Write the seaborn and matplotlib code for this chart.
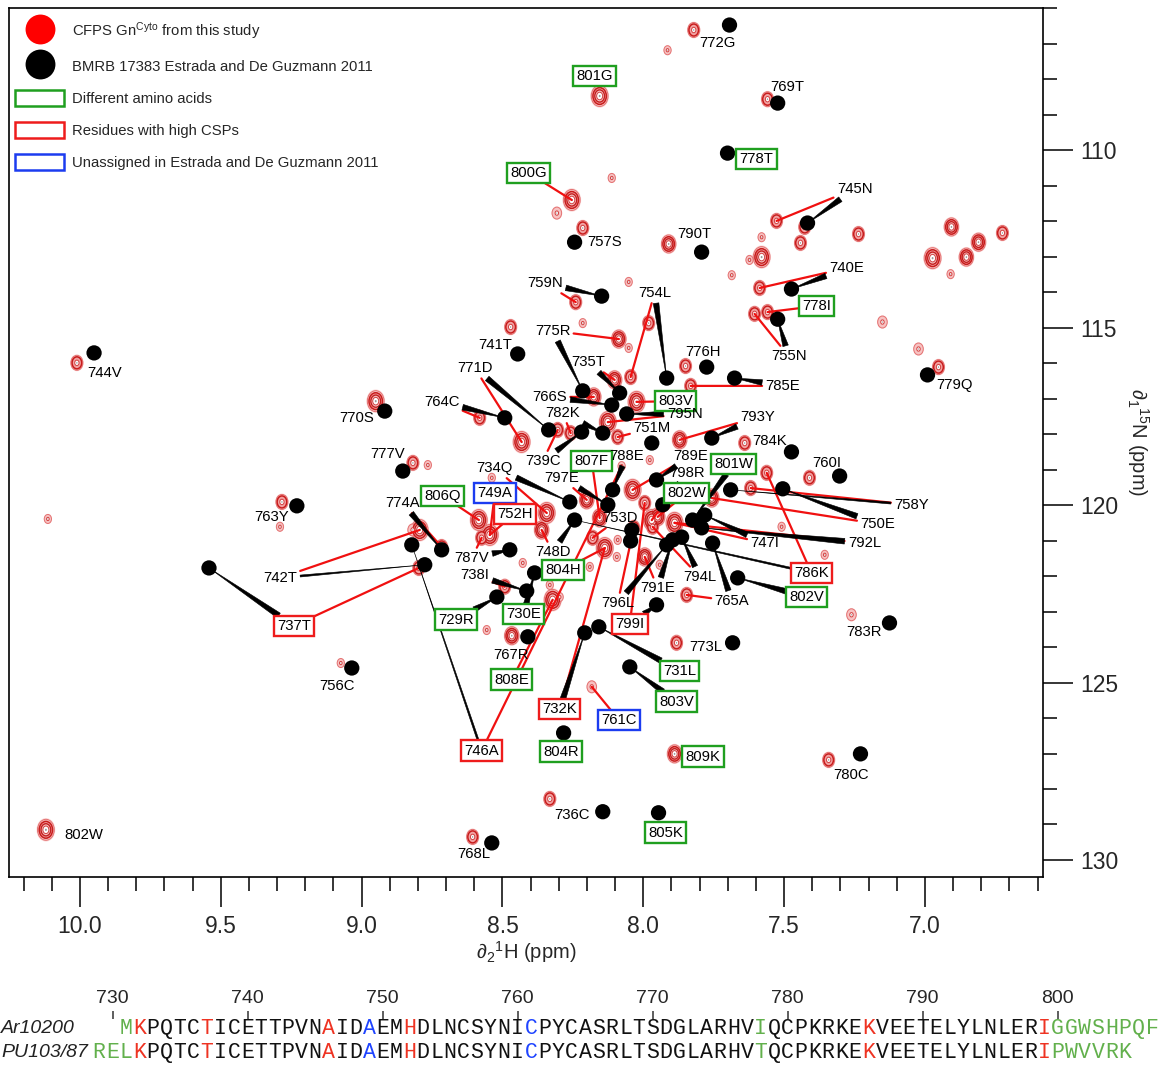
import numpy as np
import pandas as pd
import matplotlib
matplotlib.use("Agg")
import matplotlib.pyplot as plt
import seaborn as sns
from matplotlib.path import Path
from matplotlib.transforms import Affine2D
from matplotlib.lines import Line2D
from matplotlib.patches import Patch
from matplotlib.ticker import MultipleLocator, FormatStrFormatter

# ---------------- data ----------------
# BMRB 17383 reference peaks (1H ppm, 15N ppm)
bmrb_h = [7.694, 7.523, 7.701, 8.244, 7.793, 7.417, 7.474, 7.523, 6.991, 8.148,
          7.917, 7.775, 7.676, 8.446, 8.215, 8.084, 8.112, 8.059, 8.336, 8.492,
          8.144, 8.219, 7.970, 7.757, 7.474, 7.303, 9.950, 8.918, 8.854, 9.230,
          8.716, 8.822, 8.776, 9.542, 8.261, 8.109, 8.244, 8.474, 8.414, 8.520,
          8.386, 8.410, 8.041, 8.045, 7.953, 7.931, 7.825, 7.782, 7.793, 7.754,
          7.864, 7.896, 7.917, 7.690, 7.505, 7.665, 7.126, 7.683, 7.953, 8.208,
          8.158, 8.048, 9.035, 8.283, 8.144, 7.946, 8.538, 7.229, 8.126]
bmrb_n = [106.47, 108.67, 110.08, 112.59, 112.87, 112.05, 113.91, 114.76, 116.33, 114.11,
          116.42, 116.11, 116.42, 115.74, 116.78, 116.84, 117.18, 117.43, 117.88, 117.54,
          117.97, 117.94, 118.25, 118.11, 118.50, 119.18, 115.71, 117.35, 119.04, 120.02,
          121.26, 121.12, 121.68, 121.77, 119.91, 119.57, 120.42, 121.26, 122.42, 122.59,
          121.91, 123.71, 120.70, 121.01, 119.29, 119.99, 120.42, 120.28, 120.64, 121.07,
          120.90, 120.98, 121.12, 119.57, 119.54, 122.05, 123.32, 123.88, 122.81, 123.60,
          123.43, 124.56, 124.59, 126.42, 128.64, 128.67, 129.52, 127.01, 119.99]

# CFPS Gn-cyto peaks (1H ppm, 15N ppm, relative intensity class)
cfps_h = [7.821, 7.914, 8.155, 7.559, 8.254, 8.307, 8.112, 8.215, 7.910, 7.527,
          7.427, 7.442, 7.236, 7.580, 7.580, 7.623, 7.686, 6.906, 6.810, 6.853,
          6.725, 6.973, 6.909, 7.587, 7.559, 7.605, 7.151, 7.023, 6.952, 7.832,
          7.850, 8.045, 8.240, 8.052, 7.981, 8.087, 8.052, 8.471, 8.102, 8.432,
          8.581, 8.176, 8.024, 8.126, 8.258, 8.304, 8.091, 7.871, 7.640, 7.410,
          10.011, 8.950, 8.818, 9.283, 10.114, 8.794, 8.716, 8.797, 8.584, 8.545,
          8.574, 8.492, 8.361, 8.343, 8.201, 8.155, 8.322, 8.137, 8.180, 8.038,
          7.970, 7.949, 7.889, 7.757, 7.619, 7.562, 7.967, 7.995, 7.846, 7.261,
          7.882, 8.467, 8.556, 9.074, 8.183, 7.889, 8.332, 8.606, 7.342, 10.121,
          7.995, 8.091, 8.094, 8.190, 7.942, 7.509, 7.356, 7.977, 8.297, 8.765,
          8.428, 8.332, 8.538, 8.215, 9.290, 8.819, 8.034, 8.077]
cfps_n = [106.61, 107.18, 108.47, 108.56, 111.40, 111.77, 110.78, 112.19, 112.64, 111.99,
          112.16, 112.61, 112.36, 113.01, 112.45, 113.09, 113.52, 112.16, 112.59, 113.01,
          112.33, 113.04, 113.49, 113.88, 114.56, 114.61, 114.84, 115.60, 116.11, 116.64,
          116.08, 116.39, 114.28, 113.71, 114.87, 115.32, 115.57, 114.98, 116.47, 118.22,
          117.54, 116.95, 117.09, 117.66, 117.97, 117.88, 118.08, 118.16, 118.25, 119.23,
          115.99, 117.07, 118.81, 119.91, 120.39, 120.70, 121.18, 121.77, 120.42, 120.84,
          120.92, 122.30, 120.70, 120.22, 119.85, 120.36, 122.67, 121.21, 120.92, 119.57,
          120.42, 120.33, 120.50, 119.80, 119.52, 119.09, 120.61, 121.46, 122.53, 123.09,
          123.88, 123.68, 123.52, 124.45, 125.12, 127.01, 128.28, 129.35, 127.18, 129.15,
          119.94, 120.98, 121.46, 121.74, 121.68, 120.61, 121.40, 118.73, 122.59, 118.87,
          121.63, 122.25, 119.23, 114.87, 120.61, 120.70, 120.64, 118.90]
cfps_level = [2, 1, 3, 2, 3, 1.5, 1, 2, 2.5, 2,
              2, 2, 2, 3, 1, 1, 1, 2.5, 2.5, 2.5,
              2, 3, 1, 2, 2, 2, 1.5, 1.5, 2, 2,
              2, 2, 2, 1, 2, 2.5, 1, 2, 2.5, 3,
              2, 2.5, 3, 3, 2, 2, 2, 2.5, 2, 2,
              2, 3, 2, 2, 1, 3, 2, 2, 3, 3,
              2, 2, 2.5, 3, 2.5, 2.5, 3, 3, 2, 3,
              3, 2.5, 3, 2.5, 2, 2, 2, 2.5, 2, 1.5,
              2, 2.5, 1, 1, 1.5, 2.5, 2, 2, 2, 3,
              2, 1, 1, 1, 1, 1, 1, 1, 1, 1,
              1, 1, 1, 1, 1, 1.5, 2, 1]

# Residue assignments: label, label position, label category
assign_label = ["772G", "801G", "769T", "778T", "800G", "757S", "790T", "745N", "740E", "778I",
                "755N", "779Q", "785E", "776H", "754L", "759N", "775R", "741T", "735T", "771D",
                "764C", "766S", "803V", "795N", "782K", "751M", "739C", "793Y", "784K", "760I",
                "744V", "770S", "777V", "763Y", "774A", "806Q", "749A", "752H", "734Q", "797E",
                "807F", "788E", "753D", "748D", "787V", "742T", "737T", "738I", "729R", "730E",
                "804H", "767R", "808E", "746A", "732K", "761C", "731L", "803V", "804R", "809K",
                "805K", "736C", "768L", "756C", "780C", "802W", "783R", "773L", "765A", "802V",
                "786K", "794L", "791E", "796L", "799I", "789E", "798R", "802W", "801W", "747I",
                "792L", "750E", "758Y"]
assign_h = [7.736, 8.173, 7.488, 7.598, 8.407, 8.137, 7.818, 7.250, 7.278, 7.385,
            7.484, 6.895, 7.505, 7.789, 7.960, 8.350, 8.322, 8.527, 8.194, 8.598,
            8.716, 8.332, 7.885, 7.853, 8.286, 7.970, 8.357, 7.594, 7.552, 7.349,
            9.911, 9.017, 8.907, 9.319, 8.854, 8.712, 8.527, 8.457, 8.527, 8.290,
            8.183, 8.059, 8.084, 8.322, 8.609, 9.290, 9.241, 8.598, 8.666, 8.425,
            8.286, 8.471, 8.467, 8.574, 8.297, 8.087, 7.871, 7.882, 8.293, 7.789,
            7.921, 8.254, 8.602, 9.088, 7.264, 9.986, 7.215, 7.779, 7.686, 7.420,
            7.403, 7.800, 7.949, 8.091, 8.048, 7.832, 7.843, 7.846, 7.679, 7.569,
            7.215, 7.168, 7.048]
assign_n = [106.98, 107.91, 108.22, 110.25, 110.64, 112.59, 112.36, 111.09, 113.32, 114.39,
            115.80, 116.61, 116.64, 115.68, 114.02, 113.74, 115.09, 115.49, 115.97, 116.14,
            117.09, 116.95, 117.07, 117.43, 117.40, 117.83, 118.76, 117.52, 118.19, 118.81,
            116.28, 117.54, 118.56, 120.33, 119.94, 119.74, 119.66, 120.25, 118.95, 119.23,
            118.76, 118.61, 120.36, 121.32, 121.49, 122.05, 123.40, 121.97, 123.23, 123.07,
            121.83, 124.22, 124.92, 126.92, 125.74, 126.05, 124.67, 125.54, 126.95, 127.09,
            129.23, 128.73, 129.83, 125.09, 127.60, 129.29, 123.57, 123.99, 122.70, 122.59,
            121.91, 122.02, 122.33, 122.76, 123.35, 118.61, 119.09, 119.66, 118.84, 121.07,
            121.07, 120.53, 119.99]
assign_box = ["", "diff", "", "diff", "diff", "", "", "", "", "diff",
              "", "", "", "", "", "", "", "", "", "",
              "", "", "diff", "", "", "", "", "", "", "",
              "", "", "", "", "", "diff", "unassigned", "csp", "", "",
              "diff", "", "", "", "", "", "csp", "", "diff", "diff",
              "diff", "", "diff", "csp", "csp", "unassigned", "diff", "diff", "diff", "diff",
              "diff", "", "", "", "", "", "", "", "", "diff",
              "csp", "", "", "", "csp", "", "", "diff", "diff", "",
              "", "", ""]
# CFPS peak linked to each label (None = no link)
link_cfps_h = [None, None, None, None, 8.254, None, None, 7.527, 7.587, 7.559,
               7.605, None, 7.832, None, 8.045, 8.240, 8.087, None, 8.102, 8.432,
               8.581, 8.176, 8.024, 8.126, 8.258, 8.091, 8.304, 7.871, None, None,
               None, None, None, None, 8.716, 8.584, 8.545, 8.545, 8.343, 8.201,
               8.155, None, 8.180, 8.361, 8.574, 8.794, 8.797, 8.492, None, None,
               8.137, None, 8.322, 8.077, 8.137, 8.183, None, None, None, None,
               None, None, None, None, None, None, None, None, 7.846, None,
               7.562, 7.967, 7.995, 8.034, 7.995, 8.038, 7.970, 7.949, None, 7.889,
               7.889, 7.757, 7.619]
link_cfps_n = [None, None, None, None, 111.40, None, None, 111.99, 113.88, 114.56,
               114.61, None, 116.64, None, 116.39, 114.28, 115.32, None, 116.47, 118.22,
               117.54, 116.95, 117.09, 117.66, 117.97, 118.08, 117.88, 118.16, None, None,
               None, None, None, None, 121.18, 120.42, 120.84, 120.84, 120.22, 119.85,
               120.36, None, 120.92, 120.70, 120.92, 120.70, 121.77, 122.30, None, None,
               121.21, None, 122.67, 118.90, 121.21, 125.12, None, None, None, None,
               None, None, None, None, None, None, None, None, 122.53, None,
               119.09, 120.61, 121.46, 120.64, 119.94, 119.57, 120.42, 120.33, None, 120.50,
               120.50, 119.80, 119.52]
# BMRB peak linked to each label
link_bmrb_h = [None, None, None, None, None, None, None, 7.417, 7.474, None,
               7.523, None, 7.676, None, 7.917, 8.148, 8.215, None, 8.084, 8.336,
               8.492, 8.112, None, 8.059, 8.144, None, 8.219, 7.757, None, None,
               None, None, None, None, 8.716, None, None, None, 8.261, 8.126,
               None, 8.109, None, 8.244, 8.474, 8.776, 9.542, 8.414, 8.520, 8.386,
               None, None, None, 8.822, 8.208, None, 8.158, 8.048, None, None,
               None, None, None, None, None, None, None, None, 7.754, 7.665,
               8.244, 7.864, 7.896, 7.917, 7.953, 7.953, 7.931, None, 7.825, 7.782,
               7.793, 7.505, 7.690]
link_bmrb_n = [None, None, None, None, None, None, None, 112.05, 113.91, None,
               114.76, None, 116.42, None, 116.42, 114.11, 116.78, None, 116.84, 117.88,
               117.54, 117.18, None, 117.43, 117.97, None, 117.94, 118.11, None, None,
               None, None, None, None, 121.26, None, None, None, 119.91, 119.99,
               None, 119.57, None, 120.42, 121.26, 121.68, 121.77, 122.42, 122.59, 121.91,
               None, None, None, 121.12, 123.60, None, 123.43, 124.56, None, None,
               None, None, None, None, None, None, None, None, 121.07, 122.05,
               120.42, 120.90, 120.98, 121.12, 122.81, 119.29, 119.99, None, 120.42, 120.28,
               120.64, 119.54, 119.57]
thin_links = ["742T", "746A", "786K", "758Y"]

# Sequence alignment
seq_names = ["Ar10200", "PU103/87"]
seq_strings = ["MKPQTCTICETTPVNAIDAEMHDLNCSYNICPYCASRLTSDGLARHVIQCPKRKEKVEETELYLNLERIGGWSHPQF",
               "RELKPQTCTICETTPVNAIDAEMHDLNCSYNICPYCASRLTSDGLARHVTQCPKRKEKVEETELYLNLERIPWVVRK"]
seq_start = [731, 729]
seq_ticks = [730, 740, 750, 760, 770, 780, 790, 800]
csp_residues = [732, 737, 746, 752, 786, 799]
unassigned_residues = [749, 761]
diff_residues = [[731, 778, 800, 801, 802, 803, 804, 805, 806, 807],
                 [729, 730, 731, 778, 800, 801, 802, 803, 804, 805]]

legend_labels = [r"CFPS Gn$^{\mathrm{Cyto}}$ from this study",
                 "BMRB 17383 Estrada and De Guzmann 2011",
                 "Different amino acids",
                 "Residues with high CSPs",
                 "Unassigned in Estrada and De Guzmann 2011"]

# ---------------- style ----------------
sns.set_style("white")
plt.rcParams.update({
    "font.family": ["Liberation Sans", "DejaVu Sans"],
    "mathtext.fontset": "custom",
    "mathtext.rm": "Liberation Sans",
    "mathtext.it": "Liberation Sans:italic",
    "mathtext.bf": "Liberation Sans:bold",
    "axes.linewidth": 1.2,
    "axes.edgecolor": "black",
})
GREEN, RED, BLUE = "#1f9f1f", "#ee1c1c", "#1c3cf0"
box_colors = {"diff": GREEN, "csp": RED, "unassigned": BLUE}
FS = 10.7

W, H = 1167, 1066
fig = plt.figure(figsize=(W / 100, H / 100), dpi=100)
ax = fig.add_axes([9 / W, 1 - 877 / H, 1034 / W, 869 / H])
ax.set_xlim(10.252, 6.581)
ax.set_ylim(130.48, 105.99)

# ---- CFPS peaks drawn as contour-like nested ellipses ----
peaks = pd.DataFrame({"H": cfps_h, "N": cfps_n, "level": cfps_level})
ell = Path.unit_circle().transformed(Affine2D().scale(0.8, 1.0))
height_pt = {1: 6.5, 1.5: 8.6, 2: 10.8, 2.5: 13.0, 3: 15.1}
layers = [
    (1.12, "#fbdcdc", "none", 0.0, 1),
    (1.0, "#f7c2c2", "#e47272", 0.7, 1),
    (0.80, "#f2a2a2", "#c81c1c", 1.1, 2),
    (0.58, "#f6c8c8", "#c41e1e", 1.0, 2.5),
    (0.36, "#ffffff", "#d24040", 0.7, 1),
    (0.11, "#9a9a9a", "none", 0.0, 1),
]
for scale, fc, ec, lw, minlev in layers:
    sub = peaks[peaks["level"] >= minlev]
    sizes = (sub["level"].map(height_pt).to_numpy() * scale) ** 2
    sns.scatterplot(data=sub, x="H", y="N", s=sizes, marker=ell, color=fc,
                    edgecolor=ec, linewidth=lw, zorder=1, legend=False, ax=ax)

# ---- BMRB reference peaks ----
bmrb = pd.DataFrame({"H": bmrb_h, "N": bmrb_n})
sns.scatterplot(data=bmrb, x="H", y="N", color="black", s=121, edgecolor="none",
                linewidth=0, zorder=3, legend=False, ax=ax)

# ---- labels and links ----
for i, txt in enumerate(assign_label):
    kind = assign_box[i]
    pos = (assign_h[i], assign_n[i])
    inv_bbox = dict(boxstyle="square,pad=0.22", fc="none", ec="none") if kind else None
    if link_cfps_h[i] is not None:
        ax.annotate(txt, xy=(link_cfps_h[i], link_cfps_n[i]), xytext=pos,
                    xycoords="data", textcoords="data", ha="center", va="center",
                    fontsize=FS, color="none", bbox=inv_bbox, zorder=2.2,
                    arrowprops=dict(arrowstyle="-", color="#f01010", lw=1.6,
                                    shrinkA=0, shrinkB=0))
    if link_bmrb_h[i] is not None:
        tw = 0.13 if txt in thin_links else 0.38
        ax.annotate(txt, xy=(link_bmrb_h[i], link_bmrb_n[i]), xytext=pos,
                    xycoords="data", textcoords="data", ha="center", va="center",
                    fontsize=FS, color="none", bbox=inv_bbox, zorder=2.4,
                    arrowprops=dict(arrowstyle=f"wedge,tail_width={tw},shrink_factor=0.5",
                                    fc="black", ec="black", lw=0.4,
                                    shrinkA=0, shrinkB=0))
    vis_bbox = (dict(boxstyle="square,pad=0.22", fc="white", ec=box_colors[kind], lw=1.7)
                if kind else None)
    ax.text(pos[0], pos[1], txt, ha="center", va="center", fontsize=FS,
            color="black", bbox=vis_bbox, zorder=6)

# ---- axes ticks ----
ax.xaxis.set_major_locator(MultipleLocator(0.5))
ax.xaxis.set_minor_locator(MultipleLocator(0.1))
ax.xaxis.set_major_formatter(FormatStrFormatter("%.1f"))
ax.yaxis.set_major_locator(MultipleLocator(5))
ax.yaxis.set_minor_locator(MultipleLocator(1))
ax.yaxis.tick_right()
ax.yaxis.set_label_position("right")
ax.tick_params(axis="x", which="both", bottom=True, top=False, direction="out")
ax.tick_params(axis="y", which="both", left=False, right=True, labelleft=False,
               labelright=True, direction="out")
ax.tick_params(which="major", length=21.5, width=1.1, labelsize=16.5, color="black")
ax.tick_params(which="minor", length=10, width=1.1, color="black")
ax.tick_params(axis="x", which="major", pad=6)
ax.tick_params(axis="y", which="major", pad=5)
for sp in ax.spines.values():
    sp.set_visible(True)
    sp.set_color("black")
    sp.set_linewidth(1.2)
ax.set_xlabel(r"$\partial_{2}$$^{1}$H (ppm)", fontsize=14.5, labelpad=1)
ax.set_ylabel(r"$\partial_{1}$$^{15}$N (ppm)", fontsize=14.5, rotation=270, labelpad=24)

# ---- legend ----
handles = [Line2D([], [], ls="", marker="o", ms=21.5, mfc="#ff0000", mec="none"),
           Line2D([], [], ls="", marker="o", ms=21.5, mfc="black", mec="none"),
           Patch(fc="white", ec=GREEN, lw=1.8),
           Patch(fc="white", ec=RED, lw=1.8),
           Patch(fc="white", ec=BLUE, lw=1.8)]
ax.legend(handles, legend_labels, loc="upper left", bbox_to_anchor=(6 / 1034, 1 - 12 / 869),
          frameon=False, fontsize=FS, handlelength=3.3, handleheight=1.3,
          handletextpad=0.55, labelspacing=1.07, borderpad=0, borderaxespad=0)

# ---- sequence alignment panel ----
ax2 = fig.add_axes([0, 0, 1, 47 / H])
ax2.set_xlim(730 - 112.5 / 13.5, 730 + (W - 112.5) / 13.5)
ax2.set_ylim(0, 1)
ax2.patch.set_alpha(0)
for sp in ax2.spines.values():
    sp.set_visible(False)
ax2.set_yticks([])
ax2.set_xticks(seq_ticks)
ax2.xaxis.tick_top()
ax2.tick_params(axis="x", which="major", direction="out", length=5.5, width=1.1,
                labelsize=14, pad=3, top=True, bottom=False, labeltop=True,
                labelbottom=False, color="#333333")
SEQ_GREEN, SEQ_RED, SEQ_BLUE = "#62b04c", "#ee3322", "#1f44ff"
row_y = [0.80, 0.29]
for r, (name, seq, start) in enumerate(zip(seq_names, seq_strings, seq_start)):
    ax2.text(0.001, row_y[r], name, transform=ax2.transAxes, ha="left", va="center",
             fontsize=14, style="italic", color="#222222")
    for k, ch in enumerate(seq):
        resnum = start + k
        if resnum in csp_residues:
            c = SEQ_RED
        elif resnum in unassigned_residues:
            c = SEQ_BLUE
        elif resnum in diff_residues[r]:
            c = SEQ_GREEN
        else:
            c = "#111111"
        ax2.text(resnum, row_y[r], ch, ha="center", va="center", fontsize=15.5,
                 family="Liberation Mono", color=c)

fig.savefig("out.png", dpi=100)
